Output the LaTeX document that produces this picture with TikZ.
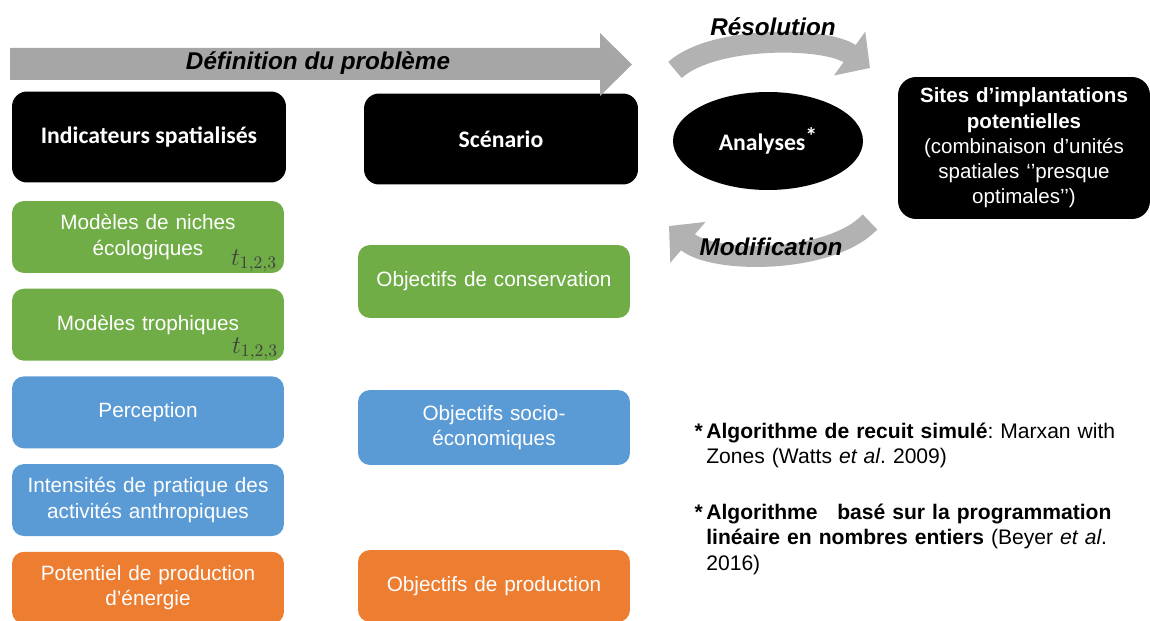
\documentclass[tikz,border=0pt]{standalone}
\usepackage{fontspec}
\setmainfont{Liberation Sans}
\newfontfamily\calibri{Carlito}
\usepackage{xcolor}
\usetikzlibrary{arrows.meta, shapes.geometric, positioning}
\frenchspacing

\definecolor{vertbox}{RGB}{112,173,71}
\definecolor{bleubox}{RGB}{91,155,213}
\definecolor{orangebox}{RGB}{237,125,49}
\definecolor{flechegris}{RGB}{166,166,166}
\definecolor{courbegris}{RGB}{178,178,178}
\definecolor{tgris}{RGB}{64,64,64}

\begin{document}
\begin{tikzpicture}[x=0.02cm, y=-0.02cm,
    bloc/.style={rounded corners=0.24cm, minimum width=5.44cm, minimum height=1.44cm,
        text width=5cm, align=center, inner sep=0pt, text=white,
        font=\fontsize{11.8}{14.5}\selectfont},
    noir/.style={fill=black, rounded corners=0.3cm, minimum width=5.48cm, minimum height=1.82cm,
        text=white, font=\calibri\bfseries\fontsize{13.5}{16}\selectfont},
    etiquette/.style={font=\bfseries\itshape\fontsize{13.8}{16}\selectfont, inner sep=0pt},
    tlabel/.style={text=tgris, font=\fontsize{14.5}{16}\selectfont, inner sep=0pt},
    note/.style={anchor=north west, text width=8.9cm, align=left, inner sep=0pt,
        font=\fontsize{12}{14.3}\selectfont},
    courbe/.style={line width=0.42cm, draw=courbegris, -{Triangle[length=0.5cm, width=1.05cm]}},
    node distance=0.3cm]

    \useasboundingbox (0,0) rectangle (1150,621);

    % =================================================================
    % 1. EN-TETES NOIRS
    % =================================================================
    \node[noir] (indicateurs) at (149,137) {Indicateurs spatialisés};
    \node[noir] (scenario) at (501,139) {Scénario};

    % Flèche de la définition du problème
    \fill[flechegris] (10,48) -- (600,48) -- (600,33) -- (632,64.5) -- (600,96) -- (600,80) -- (10,80) -- cycle;
    \node[etiquette] (definition) at (318,63) {Définition du problème};

    % =================================================================
    % 2. INDICATEURS (colonne gauche)
    % =================================================================
    \node[bloc, fill=vertbox] (niches) at (148,237) {Modèles de niches\\écologiques};
    \node[bloc, fill=vertbox, below=of niches] (trophiques) {Modèles trophiques};
    \node[bloc, fill=bleubox, below=of trophiques] (perception) {Perception};
    \node[bloc, fill=bleubox, below=of perception] (intensites) {Intensités de pratique des\\activités anthropiques};
    \node[bloc, fill=orangebox, below=of intensites] (potentiel) {Potentiel de production\\d’énergie};

    \node[tlabel] (t-niches) at (254,261) {$t_{1,2,3}$};
    \node[tlabel] (t-trophiques) at (255,349) {$t_{1,2,3}$};

    % =================================================================
    % 3. OBJECTIFS DU SCENARIO (colonne centrale)
    % =================================================================
    \node[bloc, fill=vertbox, minimum height=1.46cm] (conservation) at (494,281.5) {Objectifs de conservation};
    \node[bloc, fill=bleubox, minimum height=1.5cm] (socio) at (494,427.5) {Objectifs socio-\\économiques};
    \node[bloc, fill=orangebox] (production) at (494,586) {Objectifs de production};

    % =================================================================
    % 4. RESOLUTION / ANALYSES / MODIFICATION
    % =================================================================
    \node[ellipse, fill=black, minimum width=3.8cm, minimum height=1.96cm, text=white,
        font=\calibri\bfseries\fontsize{13.5}{16}\selectfont] (analyses) at (768,141) {Analyses\raisebox{3pt}{*}};

    \coordinate (res-debut) at (675,70);
    \coordinate (res-fin) at (870,68);
    \coordinate (mod-debut) at (870,222);
    \coordinate (mod-fin) at (669,226);
    \draw[courbe] (res-debut) .. controls (712,36) and (825,36) .. (res-fin);
    \draw[courbe] (mod-debut) .. controls (830,264) and (713,264) .. (mod-fin);
    \node[etiquette] (resolution) at (773,27) {Résolution};
    \node[etiquette] (modification) at (771,247) {Modification};

    \node[fill=black, rounded corners=0.36cm, minimum width=5.04cm, minimum height=2.84cm,
        text width=4.8cm, align=center, inner sep=0pt, text=white,
        font=\fontsize{11.7}{14.4}\selectfont] (sites) at (1024,148)
        {{\bfseries Sites d’implantations\\potentielles}\\(combinaison d’unités\\spatiales ‘’presque\\optimales’’)};

    % =================================================================
    % 5. NOTES SUR LES ALGORITHMES
    % =================================================================
    \node[note] (note-recuit) at (706,423)
        {\llap{\textbf{*}\,}\textbf{Algorithme de recuit simulé}: Marxan with\\Zones (Watts \textit{et al}. 2009)};
    \node[note] (note-lineaire) at (706,504)
        {\llap{\textbf{*}\,}\textbf{Algorithme\hspace{0.6em} basé sur la programmation\\linéaire en nombres entiers} (Beyer \textit{et al}.\\2016)};

\end{tikzpicture}
\end{document}
